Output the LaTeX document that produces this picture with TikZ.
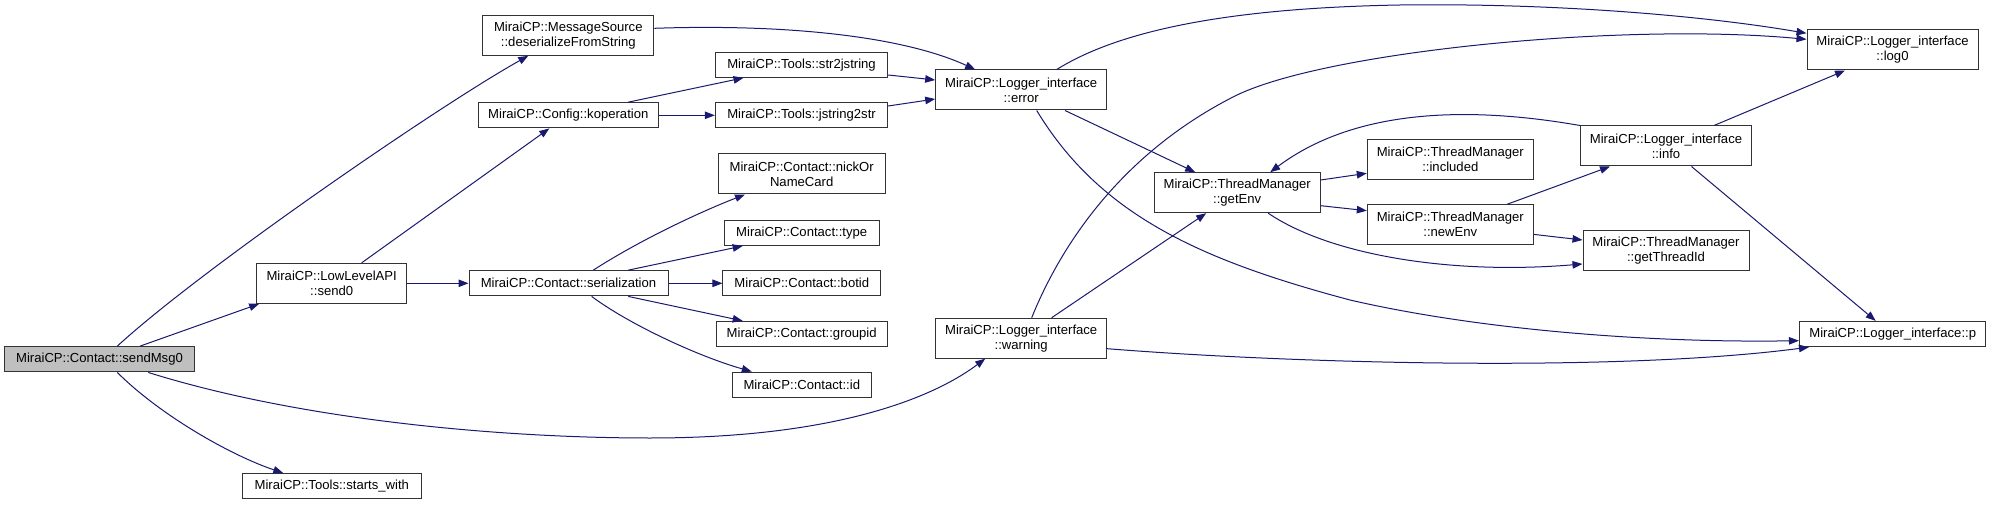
\documentclass[tikz,border=0pt]{standalone}
\usepackage{fontspec}
\setmainfont{Liberation Sans}
\usetikzlibrary{arrows.meta,calc}
\definecolor{edgecol}{HTML}{191970}
\definecolor{boxgray}{HTML}{BFBFBF}
\begin{document}
\begin{tikzpicture}[x=1pt,y=-1pt,
  fn/.style={draw=black!80, line width=1pt, fill=white, inner sep=0pt,
    minimum height=25.3pt, font=\fontsize{13.1}{15}\selectfont, align=center},
  fntwo/.style={fn, minimum height=40pt},
  call/.style={draw=edgecol, line width=1pt, line join=round,
    -{Triangle[length=10pt,width=7.5pt]}}]
\fill[white] (0,0) rectangle (1992,505);
\useasboundingbox (0,0) rectangle (1992,505);

% nodes
\node[fn, fill=boxgray, minimum width=189.6pt] (sendMsg) at (99.5,359.3) {MiraiCP::Contact::sendMsg0};
\node[fntwo, minimum width=150pt] (send0) at (331.7,283.3) {MiraiCP::LowLevelAPI\\::send0};
\node[fn, minimum width=179pt] (starts) at (331.8,486.2) {MiraiCP::Tools::starts\_with};
\node[fntwo, minimum width=171.3pt] (msgsrc) at (568.3,35.3) {MiraiCP::MessageSource\\::deserializeFromString};
\node[fn, minimum width=180pt] (kop) at (568.3,115.3) {MiraiCP::Config::koperation};
\node[fn, minimum width=199pt] (ser) at (568.5,283.3) {MiraiCP::Contact::serialization};
\node[fn, minimum width=172.4pt] (s2j) at (801.5,64.7) {MiraiCP::Tools::str2jstring};
\node[fn, minimum width=172.4pt] (j2s) at (801.5,115.3) {MiraiCP::Tools::jstring2str};
\node[fntwo, minimum width=166.7pt] (nick) at (801.7,174) {MiraiCP::Contact::nickOr\\NameCard};
\node[fn, minimum width=154.7pt] (ctype) at (801.7,232.8) {MiraiCP::Contact::type};
\node[fn, minimum width=157.7pt] (botid) at (801.8,283.3) {MiraiCP::Contact::botid};
\node[fn, minimum width=170.7pt] (groupid) at (801.7,334) {MiraiCP::Contact::groupid};
\node[fn, minimum width=139pt] (cid) at (801.8,384.7) {MiraiCP::Contact::id};
\node[fntwo, minimum width=171pt] (lerror) at (1021.2,90) {MiraiCP::Logger\_interface\\::error};
\node[fntwo, minimum width=171pt] (lwarning) at (1021.2,338.2) {MiraiCP::Logger\_interface\\::warning};
\node[fntwo, minimum width=166pt] (getenv) at (1237.2,192.7) {MiraiCP::ThreadManager\\::getEnv};
\node[fntwo, minimum width=166pt] (included) at (1450.3,159.3) {MiraiCP::ThreadManager\\::included};
\node[fntwo, minimum width=166pt] (newenv) at (1450.3,224.7) {MiraiCP::ThreadManager\\::newEnv};
\node[fntwo, minimum width=171pt] (linfo) at (1666,146) {MiraiCP::Logger\_interface\\::info};
\node[fntwo, minimum width=166pt] (tid) at (1666,250.3) {MiraiCP::ThreadManager\\::getThreadId};
\node[fntwo, minimum width=171pt] (log0) at (1892.5,50) {MiraiCP::Logger\_interface\\::log0};
\node[fn, minimum width=186.5pt] (lp) at (1892.7,334) {MiraiCP::Logger\_interface::p};

% edges
\draw[call] ($(sendMsg.north)+(17.8,0)$) .. controls (200,270) and (440,105) .. ($(msgsrc.south)+(-40,0)$);
\draw[call] ($(sendMsg.north)+(40.5,0)$) -- ($(send0.south west)+(3,0)$);
\draw[call] ($(sendMsg.south)+(48.8,0)$) .. controls (300,420) and (500,438) .. (650,438) .. controls (830,438) and (930,400) .. ($(lwarning.south)+(-36,0)$);
\draw[call] ($(sendMsg.south)+(17.8,0)$) .. controls (160,415) and (230,455) .. ($(starts.north)+(-48.5,0)$);
\draw[call] ($(send0.north)+(30,0)$) -- ($(kop.south)+(-19,0)$);
\draw[call] (send0.east) -- (ser.west);
\draw[call] ($(msgsrc.east)+(0,-7)$) .. controls (780,24) and (900,35) .. ($(lerror.north)+(-46,0)$);
\draw[call] ($(kop.north)+(60,0)$) -- ($(s2j.south)+(-58,0)$);
\draw[call] (kop.east) -- (j2s.west);
\draw[call] ($(s2j.east)+(0,10.3)$) -- ($(lerror.west)+(0,-10)$);
\draw[call] ($(j2s.east)+(0,-9.3)$) -- ($(lerror.west)+(0,9)$);
\draw[call] ($(ser.north)+(24.8,0)$) .. controls (640,240) and (700,212) .. ($(nick.south)+(-56.7,0)$);
\draw[call] ($(ser.north)+(59.8,0)$) -- ($(ctype.south)+(-59,0)$);
\draw[call] (ser.east) -- (botid.west);
\draw[call] ($(ser.south)+(59.8,0)$) -- ($(groupid.north)+(-59,0)$);
\draw[call] ($(ser.south)+(23.2,0)$) .. controls (630,325) and (700,357) .. ($(cid.north)+(-50,0)$);
\draw[call] ($(lerror.north)+(35.5,0)$) .. controls (1120,30) and (1230,8) .. (1400,5) .. controls (1550,3) and (1700,15) .. ($(log0.west)+(0,-16.7)$);
\draw[call] ($(lwarning.north)+(10.5,0)$) .. controls (1055,260) and (1110,160) .. (1233,97) .. controls (1320,52) and (1620,22) .. ($(log0.west)+(0,-10.7)$);
\draw[call] ($(lerror.south)+(43.8,0)$) -- ($(getenv.north)+(-42,0)$);
\draw[call] ($(lerror.south)+(15.5,0)$) .. controls (1100,215) and (1200,260) .. (1350,300) .. controls (1480,330) and (1650,343) .. ($(lp.west)+(0,6.7)$);
\draw[call] ($(lwarning.north)+(30.5,0)$) -- ($(getenv.south)+(-31,0)$);
\draw[call] ($(lwarning.east)+(0,10.5)$) .. controls (1300,364) and (1620,372) .. ($(lp.south west)+(10,0)$);
\draw[call] ($(getenv.east)+(0,-12.7)$) -- ($(included.west)+(0,14)$);
\draw[call] ($(getenv.east)+(0,13)$) -- ($(newenv.west)+(0,-14)$);
\draw[call] ($(getenv.south)+(31,0)$) .. controls (1330,255) and (1450,275) .. ($(tid.west)+(0,13.7)$);
\draw[call] (linfo.north west) .. controls (1480,108) and (1360,105) .. ($(getenv.north)+(33,0)$);
\draw[call] ($(newenv.north)+(57,0)$) -- ($(linfo.south)+(-56,0)$);
\draw[call] ($(newenv.east)+(0,9.7)$) -- ($(tid.west)+(0,-10.3)$);
\draw[call] ($(linfo.north)+(48,0)$) -- ($(log0.south)+(-47.5,0)$);
\draw[call] ($(linfo.south)+(25.5,0)$) -- ($(lp.north)+(-17,0)$);
\end{tikzpicture}
\end{document}
